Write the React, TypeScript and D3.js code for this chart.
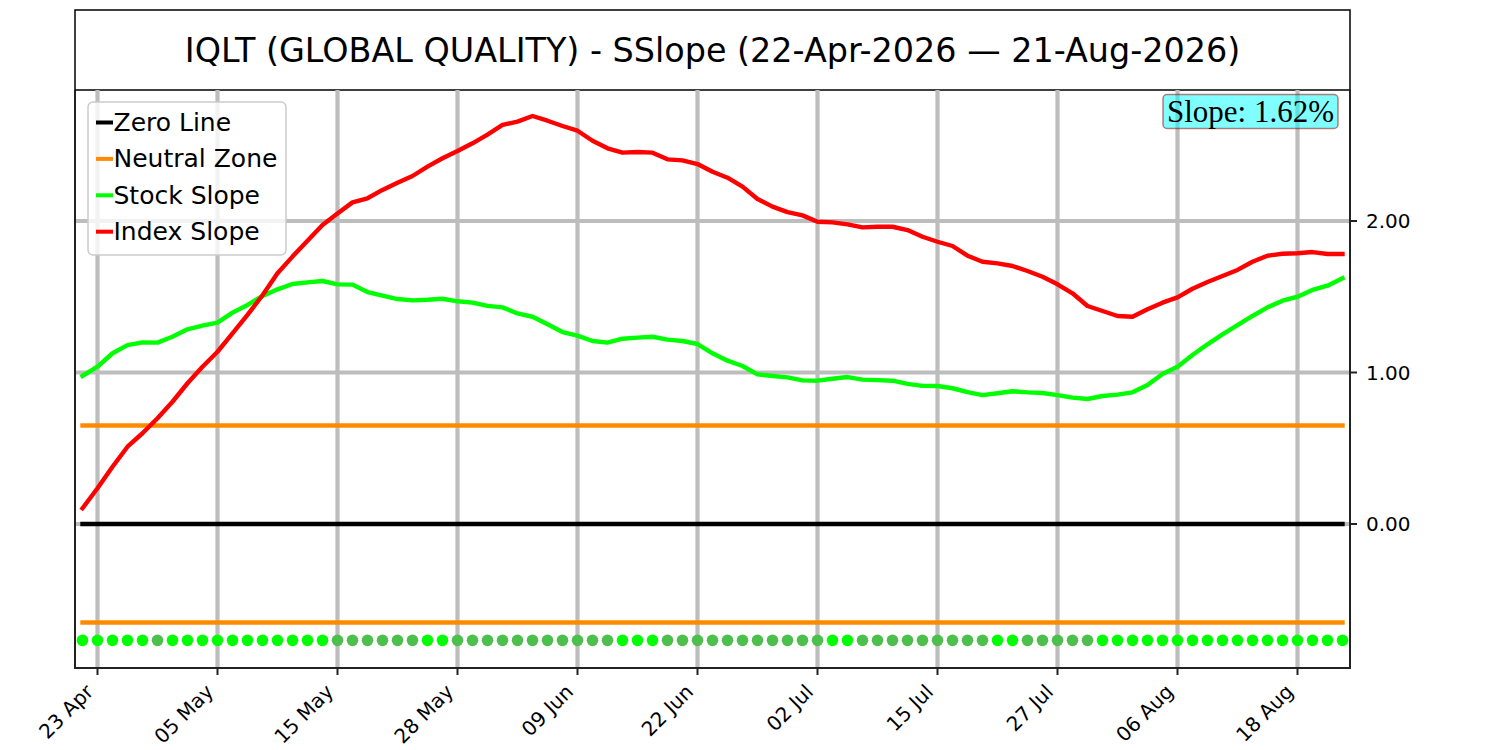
import React from "react";
import * as d3 from "d3";

const dates: string[] = [
  "2026-04-22","2026-04-23","2026-04-24","2026-04-27","2026-04-28","2026-04-29","2026-04-30",
  "2026-05-01","2026-05-04","2026-05-05","2026-05-06","2026-05-07","2026-05-08","2026-05-11",
  "2026-05-12","2026-05-13","2026-05-14","2026-05-15","2026-05-18","2026-05-19","2026-05-20",
  "2026-05-21","2026-05-22","2026-05-26","2026-05-27","2026-05-28","2026-05-29","2026-06-01",
  "2026-06-02","2026-06-03","2026-06-04","2026-06-05","2026-06-08","2026-06-09","2026-06-10",
  "2026-06-11","2026-06-12","2026-06-15","2026-06-16","2026-06-17","2026-06-18","2026-06-22",
  "2026-06-23","2026-06-24","2026-06-25","2026-06-26","2026-06-29","2026-06-30","2026-07-01",
  "2026-07-02","2026-07-06","2026-07-07","2026-07-08","2026-07-09","2026-07-10","2026-07-13",
  "2026-07-14","2026-07-15","2026-07-16","2026-07-17","2026-07-20","2026-07-21","2026-07-22",
  "2026-07-23","2026-07-24","2026-07-27","2026-07-28","2026-07-29","2026-07-30","2026-07-31",
  "2026-08-03","2026-08-04","2026-08-05","2026-08-06","2026-08-07","2026-08-10","2026-08-11",
  "2026-08-12","2026-08-13","2026-08-14","2026-08-17","2026-08-18","2026-08-19","2026-08-20",
  "2026-08-21",
];

const stockSlope: number[] = [
  0.977, 1.038, 1.127, 1.181, 1.199, 1.197, 1.236, 1.285, 1.309, 1.329,
  1.395, 1.446, 1.505, 1.549, 1.584, 1.595, 1.604, 1.582, 1.580, 1.531,
  1.507, 1.485, 1.476, 1.480, 1.487, 1.470, 1.461, 1.440, 1.430, 1.390,
  1.368, 1.318, 1.267, 1.243, 1.208, 1.197, 1.223, 1.230, 1.236, 1.217,
  1.208, 1.188, 1.127, 1.078, 1.043, 0.988, 0.977, 0.968, 0.948, 0.946,
  0.959, 0.970, 0.953, 0.950, 0.946, 0.925, 0.912, 0.911, 0.896, 0.871,
  0.851, 0.863, 0.876, 0.869, 0.865, 0.851, 0.834, 0.825, 0.845, 0.854,
  0.869, 0.917, 0.990, 1.038, 1.115, 1.186, 1.252, 1.313, 1.373, 1.430,
  1.474, 1.500, 1.545, 1.573, 1.622,
];

const indexSlope: number[] = [
  0.104, 0.236, 0.378, 0.510, 0.599, 0.698, 0.807, 0.929, 1.038, 1.137,
  1.258, 1.380, 1.510, 1.655, 1.765, 1.870, 1.974, 2.050, 2.123, 2.150,
  2.205, 2.253, 2.297, 2.359, 2.414, 2.462, 2.513, 2.570, 2.634, 2.656,
  2.693, 2.662, 2.627, 2.596, 2.530, 2.480, 2.451, 2.455, 2.451, 2.407,
  2.400, 2.376, 2.325, 2.286, 2.227, 2.145, 2.095, 2.059, 2.037, 1.995,
  1.991, 1.978, 1.958, 1.962, 1.962, 1.940, 1.896, 1.863, 1.835, 1.771,
  1.731, 1.720, 1.703, 1.670, 1.632, 1.582, 1.523, 1.439, 1.406, 1.373,
  1.368, 1.417, 1.461, 1.496, 1.553, 1.597, 1.637, 1.677, 1.731, 1.771,
  1.784, 1.787, 1.795, 1.782, 1.782,
];

// 1 = bright signal dot, 0 = muted signal dot
const signalState: number[] = [
  1, 1, 1, 1, 1, 0, 1, 1, 1, 1,
  1, 1, 1, 1, 1, 1, 1, 0, 0, 0,
  0, 0, 0, 1, 1, 0, 0, 0, 0, 0,
  0, 0, 0, 0, 0, 0, 1, 1, 1, 0,
  0, 0, 0, 0, 0, 0, 0, 0, 0, 0,
  1, 1, 0, 0, 0, 0, 0, 0, 0, 0,
  0, 1, 1, 0, 0, 0, 0, 0, 1, 1,
  1, 1, 1, 1, 1, 1, 1, 1, 1, 1,
  1, 1, 1, 1, 1,
];

const tickIndices: number[] = [1, 9, 17, 25, 33, 41, 49, 57, 65, 73, 81];
const yTicks: number[] = [0, 1, 2];
const neutralZone = 0.65;
const signalLevel = -0.768;
const lastSlope = 1.62;
const titleText = "IQLT (GLOBAL QUALITY) - SSlope (22-Apr-2026 \u2014 21-Aug-2026)";

const legendItems = [
  { label: "Zero Line", color: "#000000" },
  { label: "Neutral Zone", color: "#ff8c00" },
  { label: "Stock Slope", color: "#00ff00" },
  { label: "Index Slope", color: "#ff0000" },
];

const W = 1500;
const H = 750;
const L = 75;
const R = 1350;
const T = 90;
const B = 668;
const FONT = "DejaVu Sans, sans-serif";
const LW = 4.4;

export default function App() {
  const n = dates.length;
  const x = d3.scaleLinear().domain([-0.5, n - 0.5]).range([L, R]);
  const y = d3.scaleLinear().domain([-0.9505, 2.8647]).range([B, T]);
  const parse = d3.timeParse("%Y-%m-%d");
  const fmt = d3.timeFormat("%d %b");

  const line = d3
    .line<number>()
    .x((_, i) => x(i))
    .y((v) => y(v));

  const hline = (v: number) =>
    d3.line<number>().x((i) => x(i)).y(() => y(v))([0, n - 1]) as string;

  return (
    <svg
      width={W}
      height={H}
      style={{ position: "absolute", left: 0, top: 0, background: "#fff" }}
      fontFamily={FONT}
    >
      <rect x={0} y={0} width={W} height={H} fill="#fff" />
      {/* title box */}
      <rect x={L} y={10} width={R - L} height={T - 10} fill="#fff" stroke="#000" strokeWidth={1.5} />
      <text x={(L + R) / 2} y={50} textAnchor="middle" dominantBaseline="central" fontSize={33.4} fill="#000">
        {titleText}
      </text>

      <defs>
        <clipPath id="plotclip">
          <rect x={L} y={T} width={R - L} height={B - T} />
        </clipPath>
      </defs>

      {/* grid */}
      <g clipPath="url(#plotclip)">
        {tickIndices.map((i) => (
          <line key={"gx" + i} x1={x(i)} x2={x(i)} y1={T} y2={B} stroke="#bdbdbd" strokeWidth={4.2} />
        ))}
        {yTicks.map((v) => (
          <line key={"gy" + v} x1={L} x2={R} y1={y(v)} y2={y(v)} stroke="#bdbdbd" strokeWidth={4.2} />
        ))}

        {/* reference lines */}
        <path d={hline(0)} stroke="#000" strokeWidth={LW} fill="none" strokeLinecap="square" />
        <path d={hline(neutralZone)} stroke="#ff8c00" strokeWidth={LW} fill="none" strokeLinecap="square" />
        <path d={hline(-neutralZone)} stroke="#ff8c00" strokeWidth={LW} fill="none" strokeLinecap="square" />

        {/* series */}
        <path d={line(stockSlope) as string} stroke="#00ff00" strokeWidth={LW} fill="none" strokeLinejoin="round" strokeLinecap="square" />
        <path d={line(indexSlope) as string} stroke="#ff0000" strokeWidth={LW} fill="none" strokeLinejoin="round" strokeLinecap="square" />

        {/* signal dots */}
        {signalState.map((s, i) => (
          <circle key={"d" + i} cx={x(i)} cy={y(signalLevel)} r={5.8} fill={s ? "#00ff00" : "#4cbf4c"} />
        ))}
      </g>

      {/* spines */}
      <line x1={L} x2={L} y1={T} y2={B} stroke="#222" strokeWidth={2} />
      <line x1={R} x2={R} y1={T} y2={B} stroke="#222" strokeWidth={2} />
      <line x1={L - 1} x2={R + 1} y1={B} y2={B} stroke="#222" strokeWidth={2} />

      {/* x ticks */}
      {tickIndices.map((i) => {
        const tx = x(i);
        const d = parse(dates[i]) as Date;
        return (
          <g key={"xt" + i}>
            <line x1={tx} x2={tx} y1={B} y2={B + 7} stroke="#222" strokeWidth={2} />
            <text
              transform={`translate(${tx - 3},${B + 25}) rotate(-45)`}
              textAnchor="end"
              fontSize={20}
              fill="#000"
            >
              {fmt(d)}
            </text>
          </g>
        );
      })}

      {/* y ticks (right) */}
      {yTicks.map((v) => (
        <g key={"yt" + v}>
          <line x1={R} x2={R + 7} y1={y(v)} y2={y(v)} stroke="#222" strokeWidth={2} />
          <text x={R + 16} y={y(v)} dominantBaseline="central" fontSize={20} fill="#000">
            {d3.format(".2f")(v)}
          </text>
        </g>
      ))}

      {/* legend */}
      <g>
        <rect x={88} y={102} width={198} height={153} rx={5} ry={5} fill="rgba(255,255,255,0.8)" stroke="#cccccc" strokeWidth={1.5} />
        {legendItems.map((it, k) => {
          const cy = 122.5 + k * 36.4;
          return (
            <g key={it.label}>
              <line x1={96} x2={113} y1={cy} y2={cy} stroke={it.color} strokeWidth={4} />
              <text x={113.5} y={cy} dominantBaseline="central" fontSize={25} fill="#000">
                {it.label}
              </text>
            </g>
          );
        })}
      </g>

      {/* slope box */}
      <g>
        <rect x={1163} y={94.5} width={175} height={34} rx={4} ry={4} fill="rgba(0,255,255,0.5)" stroke="rgba(139,0,0,0.5)" strokeWidth={1.5} />
        <text x={1250.5} y={111} textAnchor="middle" dominantBaseline="central" fontSize={31} fontFamily="Liberation Serif, serif" fill="#000">
          {`Slope: ${lastSlope.toFixed(2)}%`}
        </text>
      </g>
    </svg>
  );
}
